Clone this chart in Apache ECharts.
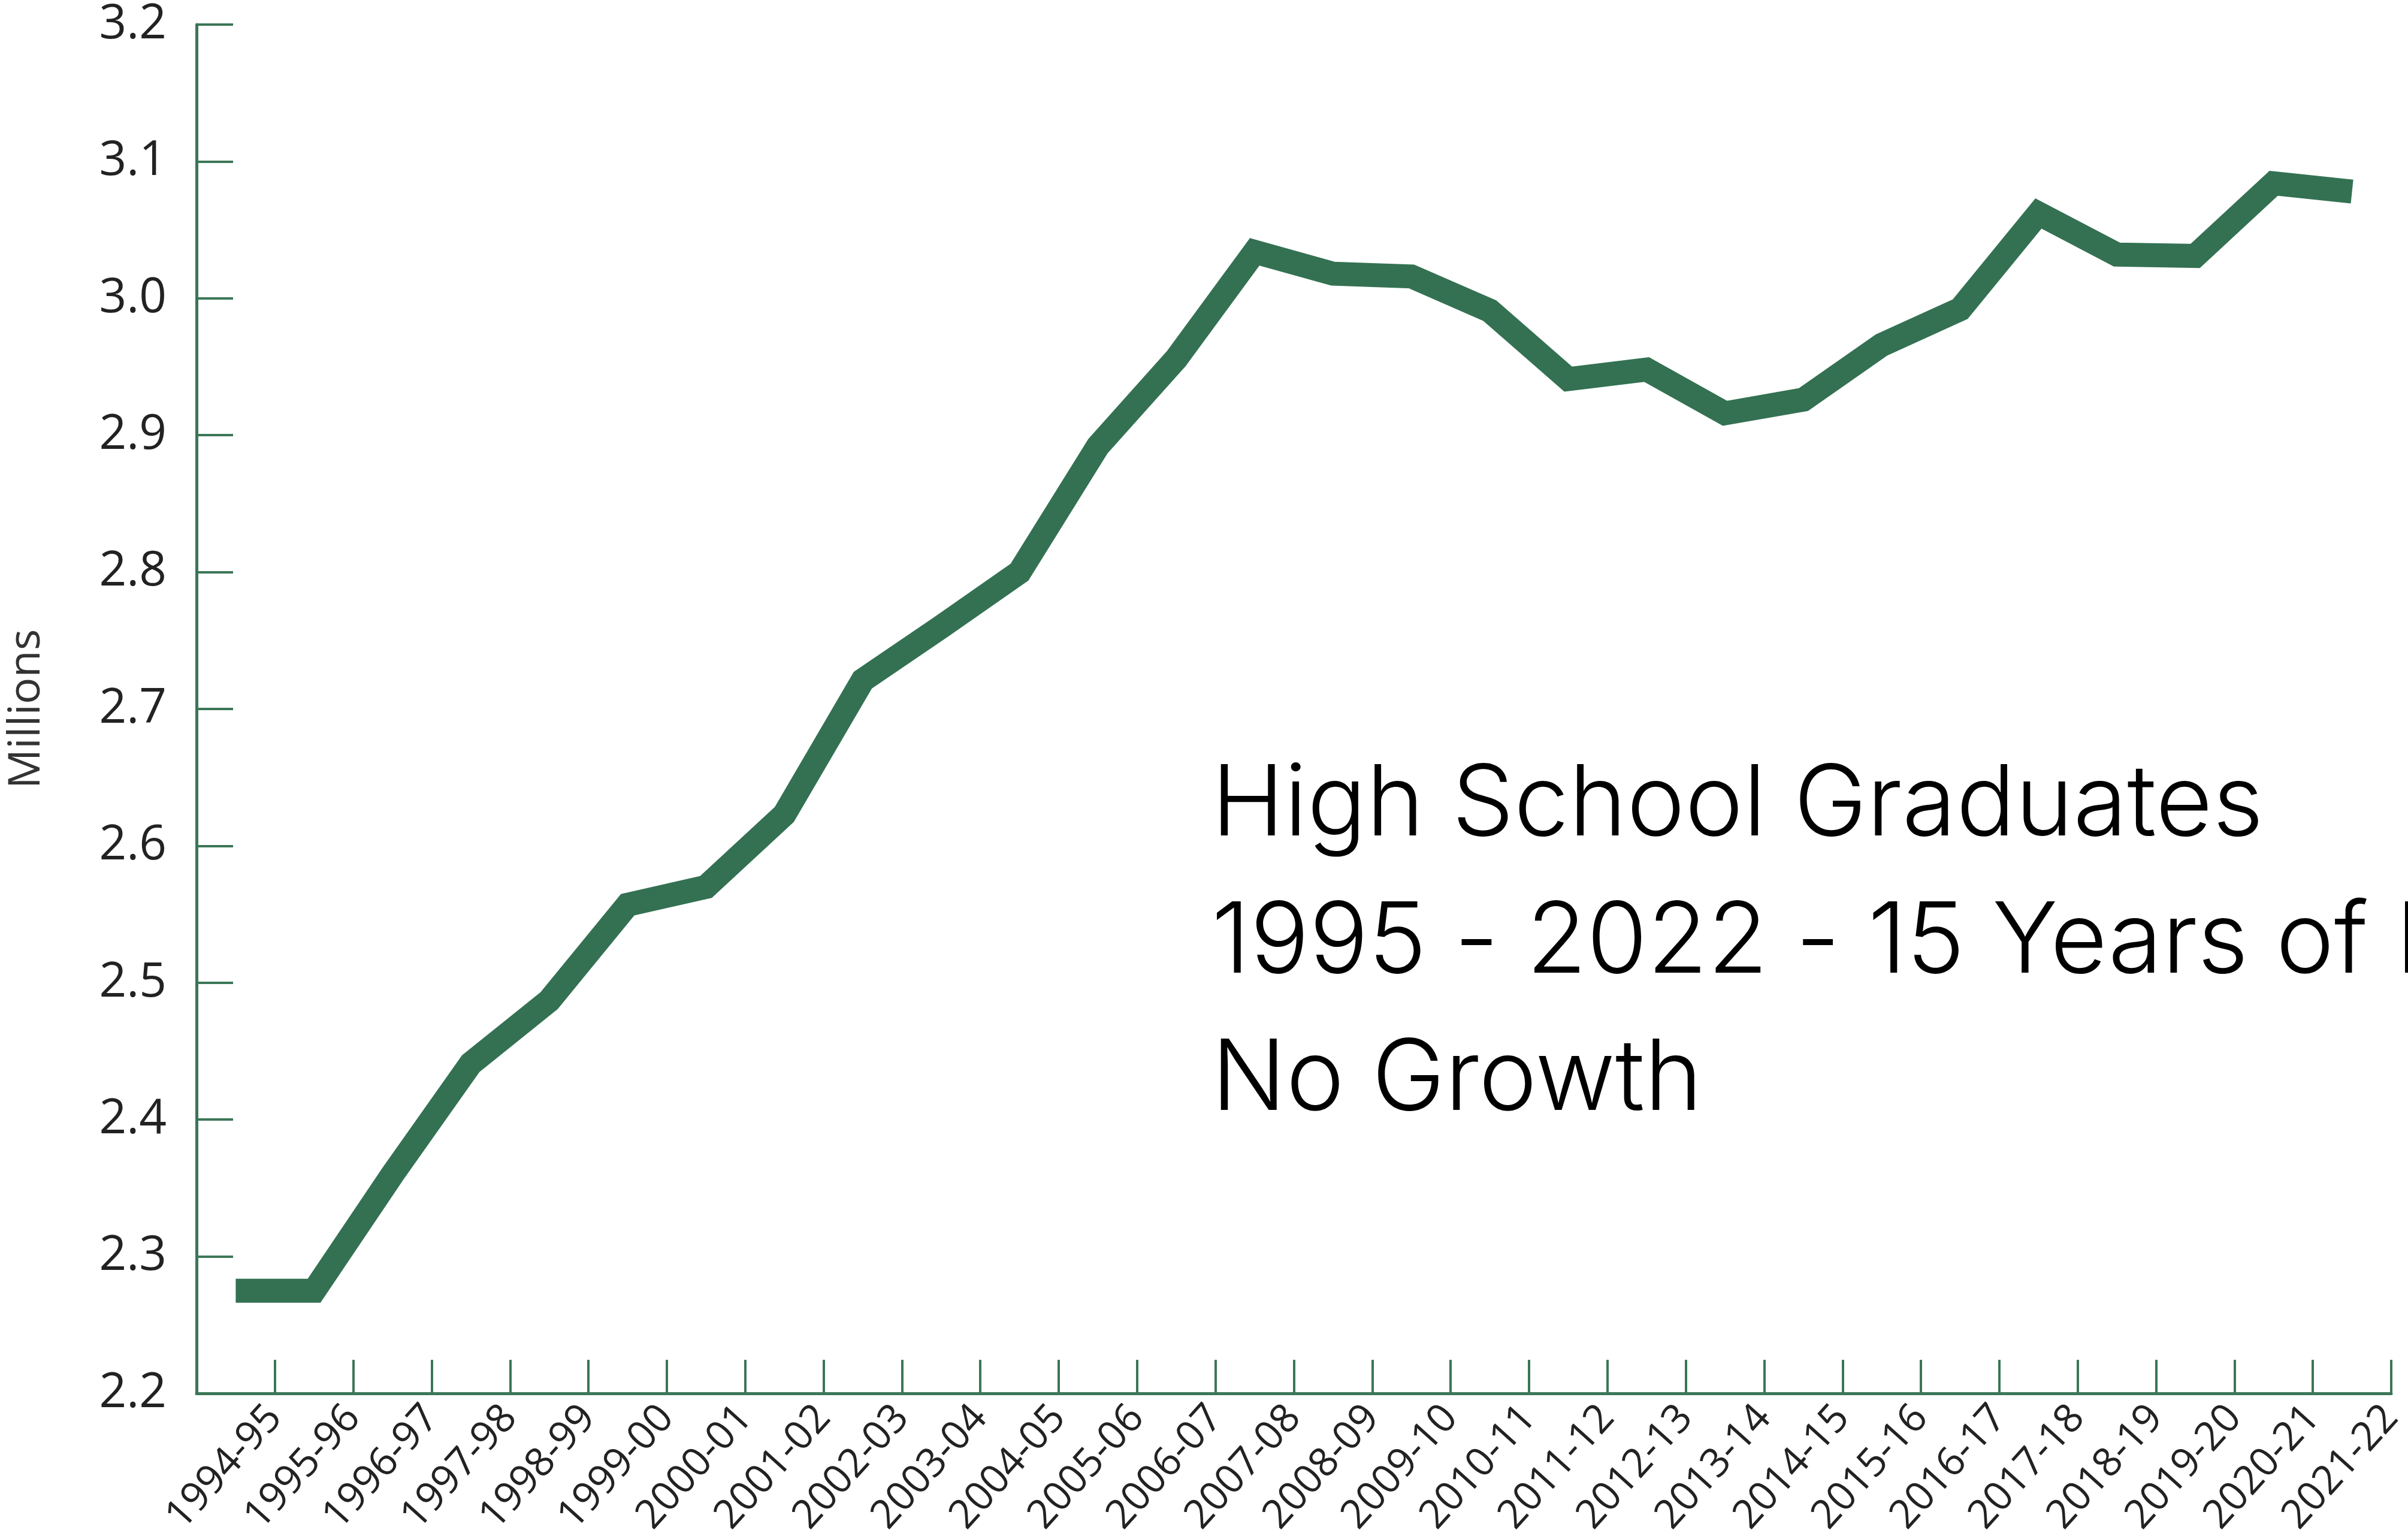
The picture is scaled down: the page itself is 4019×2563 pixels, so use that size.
<!DOCTYPE html>
<html>
<head>
<meta charset="utf-8">
<script src="https://cdn.jsdelivr.net/npm/echarts@6/dist/echarts.min.js"></script>
<style>
  html, body { margin: 0; padding: 0; background: #fff; }
  #chart { width: 4019px; height: 2563px; }
</style>
</head>
<body>
<div id="chart"></div>
<script>
// school years on the x axis
var years = ['1994-95', '1995-96', '1996-97', '1997-98', '1998-99', '1999-00', '2000-01',
    '2001-02', '2002-03', '2003-04', '2004-05', '2005-06', '2006-07', '2007-08',
    '2008-09', '2009-10', '2010-11', '2011-12', '2012-13', '2013-14', '2014-15',
    '2015-16', '2016-17', '2017-18', '2018-19', '2019-20', '2020-21', '2021-22']

// graduates, millions
var graduates = [2.275, 2.275, 2.36, 2.441, 2.487, 2.557, 2.570,
    2.623, 2.721, 2.760, 2.800, 2.892, 2.956, 3.034,
    3.018, 3.016, 2.991, 2.941, 2.948, 2.916, 2.926,
    2.966, 2.992, 3.062, 3.032, 3.031, 3.084, 3.078]

var yMin = 2.2
var yMax = 3.2
var yStep = 0.1

var note = ['High School Graduates', '1995 - 2022 - 15 Years of Flat', 'No Growth']

var green = '#337152'
var axisGreen = '#3b7657'

var echart = echarts.init(document.getElementById('chart'))

var option = {
    backgroundColor: '#fff',
    animation: false,
    grid: { left: 328, top: 41, right: 28, bottom: 238, containLabel: false, outerBoundsMode: 'none' },
    xAxis: [{
        type: 'category',
        data: years,
        boundaryGap: true,
        axisLine: { lineStyle: { color: axisGreen, width: 5 } },
        axisTick: { show: true, inside: true, length: 56, lineStyle: { color: axisGreen, width: 4 } },
        axisLabel: { show: false },
        splitLine: { show: false }
    }, {
        // label-only axis, so the slanted labels end on the tick marks
        type: 'category',
        data: [''].concat(years),
        boundaryGap: false,
        position: 'bottom',
        axisLine: { show: false },
        axisTick: { show: false },
        splitLine: { show: false },
        axisLabel: {
            interval: 0,
            rotate: 48,
            margin: 30,
            fontFamily: 'Open Sans',
            fontSize: 67,
            color: '#222'
        }
    }],
    yAxis: {
        type: 'value',
        min: yMin,
        max: yMax,
        interval: yStep,
        name: 'Millions',
        nameLocation: 'middle',
        nameRotate: 90,
        nameGap: 246,
        nameTextStyle: { fontFamily: 'Open Sans', fontSize: 74, color: '#333' },
        axisLine: { show: true, lineStyle: { color: axisGreen, width: 5 } },
        axisTick: { show: true, inside: true, length: 61, lineStyle: { color: axisGreen, width: 4 } },
        axisLabel: {
            margin: 50,
            fontFamily: 'Open Sans',
            fontSize: 80,
            color: '#222',
            formatter: function (v) { return v.toFixed(1) }
        },
        splitLine: { show: false }
    },
    graphic: [{
        type: 'text',
        left: 2022,
        top: 1230,
        style: {
            text: note.join('\n'),
            fontFamily: 'Inter',
            fontWeight: 300,
            fontSize: 164,
            lineHeight: 229,
            fill: '#000'
        }
    }],
    series: [{
        type: 'line',
        xAxisIndex: 0,
        data: graduates,
        symbol: 'none',
        smooth: false,
        lineStyle: { color: green, width: 40, join: 'miter', cap: 'butt' }
    }]
}

echart.setOption(option)
</script>
</body>
</html>
